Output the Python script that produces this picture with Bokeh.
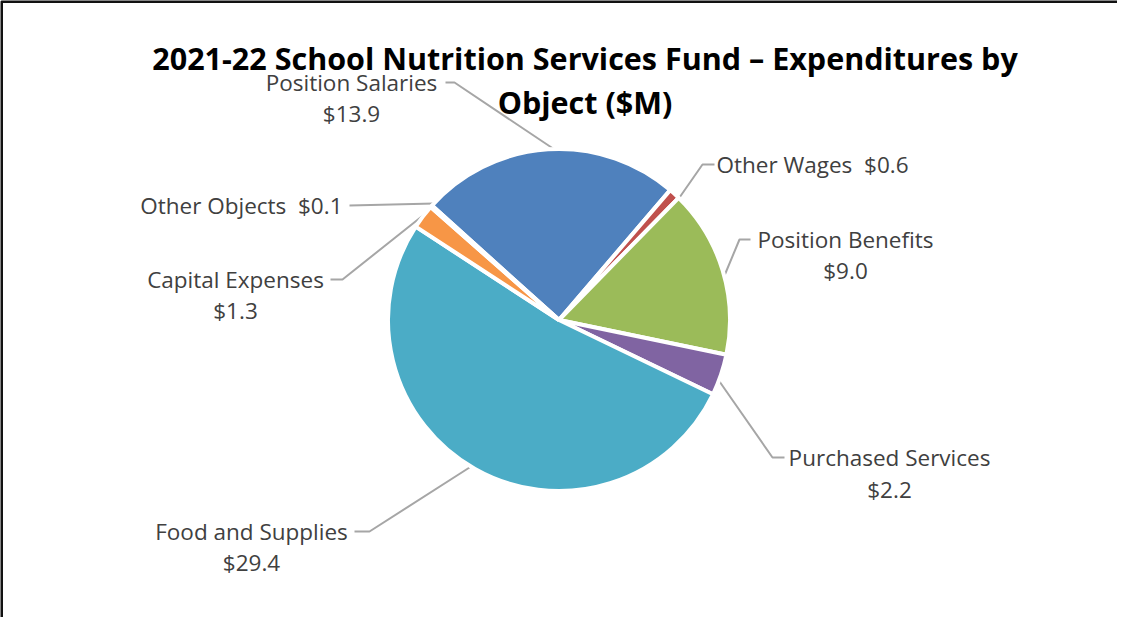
import math
from bokeh.plotting import figure
from bokeh.models import Range1d
from bokeh.core.properties import value
from bokeh.embed import file_html
from bokeh.resources import INLINE

# ---- data ----
categories = ["Position Salaries", "Other Wages", "Position Benefits", "Purchased Services",
              "Food and Supplies", "Capital Expenses", "Other Objects"]
amounts = [13.9, 0.6, 9.0, 2.2, 29.4, 1.3, 0.1]
colors = ["#4F81BD", "#C0504D", "#9BBB59", "#8064A2", "#4BACC6", "#F79646", "#2C4D75"]
title_lines = ["2021-22 School Nutrition Services Fund \u2013 Expenditures by", "Object ($M)"]

# ---- layout (page pixel coordinates) ----
PAGE_H = 633
def Y(py):
    return PAGE_H - py

CX, CY, R = 566.5, 327.5, 171
FIRST_ANGLE = 312.0  # clockwise from 12 o'clock

label_layout = {
    "Position Salaries": (359, 90, 121, "center", False),
    "Other Wages": (724, 172, None, "left", True),
    "Position Benefits": (853, 247, 278, "center", False),
    "Purchased Services": (897, 465, 497, "center", False),
    "Food and Supplies": (259, 539, 570, "center", False),
    "Capital Expenses": (243, 287, 318, "center", False),
    "Other Objects": (350, 213, None, "right", True),
}
leaders = {
    "Position Salaries": [(453, 90), (462, 90), (562, 157)],
    "Other Wages": [(722, 172), (710, 172), (687, 205)],
    "Position Benefits": [(758, 247), (747, 247), (732, 283)],
    "Purchased Services": [(792, 465), (780, 465), (727, 389)],
    "Food and Supplies": [(362, 539), (377, 539), (477, 475)],
    "Capital Expenses": [(338, 287), (350, 287), (433, 221)],
    "Other Objects": [(357, 213), (442, 211)],
}

p = figure(width=1117, height=617, x_range=Range1d(8, 1125), y_range=Range1d(8, 625),
           output_backend="svg", toolbar_location=None, min_border=0,
           x_axis_location=None, y_axis_location=None)
p.grid.visible = False
p.outline_line_color = None
p.background_fill_color = "white"
p.border_fill_color = "white"

# border (top and left)
p.line([9, 9, 1125], [Y(633), Y(9), Y(9)], line_color="#111111", line_width=3)

# leader lines
for name in categories:
    pts = leaders[name]
    p.line([q[0] for q in pts], [Y(q[1]) for q in pts], line_color="#A6A6A6", line_width=2)

# wedges
total = sum(amounts)
theta = FIRST_ANGLE
for name, v, c in zip(categories, amounts, colors):
    span = v / total * 360.0
    t1, t2 = theta, theta + span
    p.wedge(x=[CX], y=[Y(CY)], radius=R, radius_units="screen",
            start_angle=math.radians(90 - t2), end_angle=math.radians(90 - t1),
            fill_color=c, line_color="white", line_width=4)
    theta = t2

# labels
lab_font = value("Open Sans")
LAB_SIZE = "22.5px"
for name, v in zip(categories, amounts):
    x, b1, b2, align, single = label_layout[name]
    amt = "${:.1f}".format(v)
    if single:
        p.text(x=[x], y=[Y(b1)], text=[name + "\u00a0\u00a0" + amt], text_font=lab_font,
               text_font_size=LAB_SIZE, text_color="#404040", text_align=align,
               text_baseline="alphabetic")
    else:
        p.text(x=[x], y=[Y(b1)], text=[name], text_font=lab_font,
               text_font_size=LAB_SIZE, text_color="#404040", text_align=align,
               text_baseline="alphabetic")
        p.text(x=[x], y=[Y(b2)], text=[amt], text_font=lab_font,
               text_font_size=LAB_SIZE, text_color="#404040", text_align=align,
               text_baseline="alphabetic")

# title
for line, b in zip(title_lines, [65, 109]):
    p.text(x=[592.5], y=[Y(b)], text=[line], text_font=lab_font, text_font_style="bold",
           text_font_size="30.5px", text_color="#000000", text_align="center",
           text_baseline="alphabetic")

open("out.html", "w").write(file_html(p, INLINE))
